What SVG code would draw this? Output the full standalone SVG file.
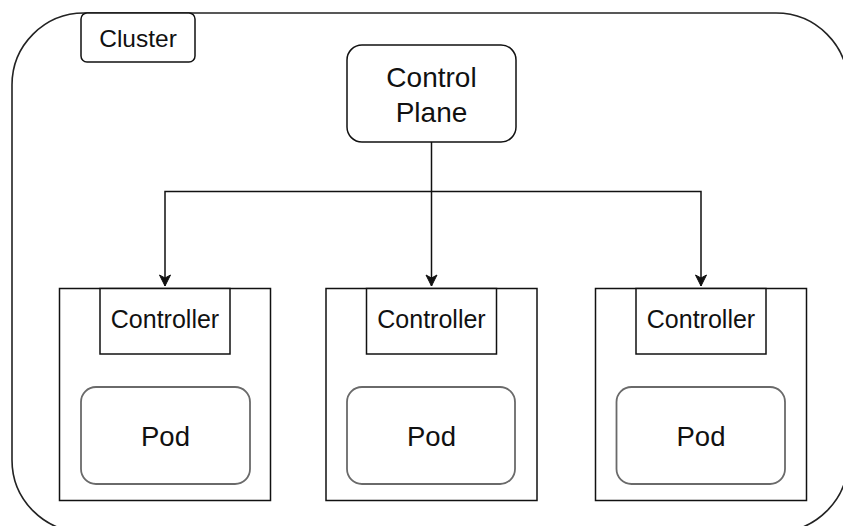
<svg xmlns="http://www.w3.org/2000/svg" width="843" height="526" viewBox="0 0 843 526">
  <style>
    .box { fill: #ffffff; stroke: #111111; stroke-width: 1.5; }
    .pod { fill: #ffffff; stroke: #6a6a6a; stroke-width: 1.8; }
    .edge { fill: none; stroke: #111111; stroke-width: 1.5; }
    .lbl { font-family: "Liberation Sans", Arial, Helvetica, sans-serif; fill: #111111; text-anchor: middle; }
  </style>
  <defs>
    <marker id="arrow" markerUnits="userSpaceOnUse" markerWidth="14" markerHeight="14" viewBox="0 0 14 14" refX="12" refY="7" orient="auto">
      <path d="M1,1.5 L12,7 L1,12.5 L4,7 Z" fill="#111111" stroke="#111111" stroke-width="1"/>
    </marker>
  </defs>

  <!-- cluster boundary -->
  <g id="cluster">
    <rect x="12" y="13" width="836" height="519" rx="72" ry="72" fill="#ffffff" stroke="#222222" stroke-width="1.6"/>
    <rect x="81" y="13" width="114" height="49" rx="6" ry="6" class="box"/>
    <text x="138" y="46.5" class="lbl" font-size="24.5">Cluster</text>
  </g>

  <!-- connectors -->
  <g id="connectors">
    <path class="edge" d="M431.5,142 V286" marker-end="url(#arrow)"/>
    <path class="edge" d="M431.5,191.5 H165 V286" marker-end="url(#arrow)"/>
    <path class="edge" d="M431.5,191.5 H701 V286" marker-end="url(#arrow)"/>
  </g>

  <g id="control-plane">
    <rect x="347" y="45" width="169" height="97" rx="15" ry="15" class="box"/>
    <text x="431.5" y="87" class="lbl" font-size="28">Control</text>
    <text x="431.5" y="122" class="lbl" font-size="28">Plane</text>
  </g>

  <g id="node-1">
    <rect x="59.5" y="288.5" width="211" height="212" class="box"/>
    <rect x="100" y="288.5" width="130" height="65.5" class="box"/>
    <text x="165" y="328" class="lbl" font-size="25">Controller</text>
    <rect x="81" y="387" width="169" height="97" rx="15" ry="15" class="pod"/>
    <text x="165.5" y="446" class="lbl" font-size="27.5">Pod</text>
  </g>

  <g id="node-2">
    <rect x="326" y="288.5" width="211" height="212" class="box"/>
    <rect x="366.5" y="288.5" width="130" height="65.5" class="box"/>
    <text x="431.5" y="328" class="lbl" font-size="25">Controller</text>
    <rect x="347" y="387" width="168" height="97" rx="15" ry="15" class="pod"/>
    <text x="431.5" y="446" class="lbl" font-size="27.5">Pod</text>
  </g>

  <g id="node-3">
    <rect x="595.5" y="288.5" width="211" height="212" class="box"/>
    <rect x="636" y="288.5" width="130" height="65.5" class="box"/>
    <text x="701" y="328" class="lbl" font-size="25">Controller</text>
    <rect x="616.5" y="387" width="168.5" height="97" rx="15" ry="15" class="pod"/>
    <text x="701" y="446" class="lbl" font-size="27.5">Pod</text>
  </g>
</svg>
